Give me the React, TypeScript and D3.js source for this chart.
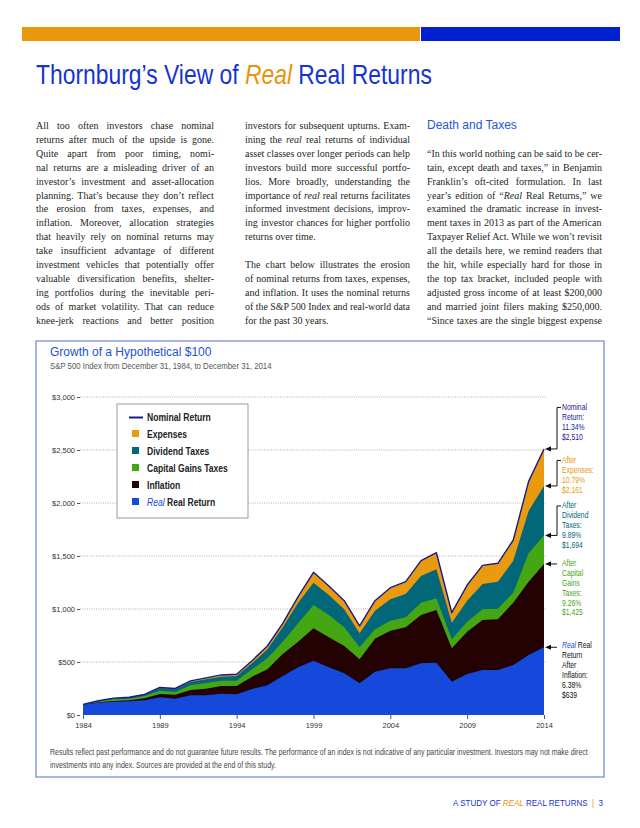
import { useEffect, useRef } from 'react';
import * as d3 from 'd3';

// ---- data ----
const years = [1984, 1985, 1986, 1987, 1988, 1989, 1990, 1991, 1992, 1993, 1994, 1995, 1996, 1997, 1998, 1999,
    2000, 2001, 2002, 2003, 2004, 2005, 2006, 2007, 2008, 2009, 2010, 2011, 2012, 2013, 2014];
const nominalReturn = [100, 134, 159, 168, 194, 260, 250, 322, 350, 378, 384, 512, 651, 865, 1116, 1346,
    1217, 1078, 840, 1078, 1201, 1258, 1456, 1531, 965, 1226, 1412, 1431, 1651, 2204, 2510];
const afterExpenses = [100, 133, 157, 165, 190, 254, 244, 312, 337, 362, 368, 488, 620, 827, 1060, 1248,
    1132, 997, 771, 984, 1091, 1141, 1311, 1374, 871, 1078, 1236, 1258, 1456, 1925, 2161];
const afterDividendTaxes = [100, 129, 148, 154, 179, 229, 217, 280, 302, 324, 324, 431, 535, 692, 865, 1038,
    943, 827, 639, 808, 890, 921, 1060, 1101, 714, 880, 997, 1003, 1154, 1525, 1694];
const afterCapitalGainsTaxes = [100, 120, 132, 138, 157, 198, 192, 236, 248, 274, 274, 362, 431, 575, 692, 818,
    733, 651, 525, 720, 795, 827, 943, 991, 629, 786, 896, 903, 1060, 1258, 1425];
const realRealReturn = [100, 116, 126, 129, 138, 167, 154, 186, 186, 201, 195, 245, 280, 368, 450, 512,
    450, 393, 299, 409, 441, 441, 488, 494, 314, 387, 425, 425, 472, 566, 639];

const yTicks = [0, 500, 1000, 1500, 2000, 2500, 3000];
const xTicks = [1984, 1989, 1994, 1999, 2004, 2009, 2014];

const ORANGE = '#E99A0E';
const TEAL = '#03677A';
const GREEN = '#45A614';
const INFL = '#240102';
const REALBLUE = '#1449DB';
const NAVY = '#1a1a8e';
const PAGEBLUE = '#1532d4';

const layers = [
    { name: 'Expenses', values: nominalReturn, color: ORANGE },
    { name: 'Dividend Taxes', values: afterExpenses, color: TEAL },
    { name: 'Capital Gains Taxes', values: afterDividendTaxes, color: GREEN },
    { name: 'Inflation', values: afterCapitalGainsTaxes, color: INFL },
    { name: 'Real Real Return', values: realRealReturn, color: REALBLUE },
];

const legendItems = [
    { label: 'Nominal Return', color: NAVY, line: true },
    { label: 'Expenses', color: ORANGE },
    { label: 'Dividend Taxes', color: TEAL },
    { label: 'Capital Gains Taxes', color: GREEN },
    { label: 'Inflation', color: INFL },
    { label: '*Real* Real Return', color: REALBLUE },
];

const endLabels = [
    { lines: ['Nominal', 'Return:', '11.34%', '$2,510'], series: nominalReturn, color: NAVY, bracket: true, offset: -39 },
    { lines: ['After', 'Expenses:', '10.79%', '$2,161'], series: afterExpenses, color: ORANGE, bracket: true, offset: -23 },
    { lines: ['After', 'Dividend', 'Taxes:', '9.89%', '$1,694'], series: afterDividendTaxes, color: TEAL, bracket: true, offset: -27 },
    { lines: ['After', 'Capital', 'Gains', 'Taxes:', '9.26%', '$1,425'], series: afterCapitalGainsTaxes, color: GREEN, bracket: false, offset: 2 },
    { lines: ['*Real* Real', 'Return', 'After', 'Inflation:', '6.38%', '$639'], series: realRealReturn, color: '#111', bracket: false, offset: 1 },
];

const footnote = [
    'Results reflect past performance and do not guarantee future results. The performance of an index is not indicative of any particular investment. Investors may not make direct',
    'investments into any index. Sources are provided at the end of this study.',
];

// body copy, '*' toggles italic, trailing '¶' = paragraph end (not justified)
const column1 = [
    'All too often investors chase nominal',
    'returns after much of the upside is gone.',
    'Quite apart from poor timing, nomi-',
    'nal returns are a misleading driver of an',
    'investor’s investment and asset-allocation',
    'planning. That’s because they don’t reflect',
    'the erosion from taxes, expenses, and',
    'inflation. Moreover, allocation strategies',
    'that heavily rely on nominal returns may',
    'take insufficient advantage of different',
    'investment vehicles that potentially offer',
    'valuable diversification benefits, shelter-',
    'ing portfolios during the inevitable peri-',
    'ods of market volatility. That can reduce',
    'knee-jerk reactions and better position',
];
const column2 = [
    'investors for subsequent upturns. Exam-',
    'ining the *real* real returns of individual',
    'asset classes over longer periods can help',
    'investors build more successful portfo-',
    'lios. More broadly, understanding the',
    'importance of *real* real returns facilitates',
    'informed investment decisions, improv-',
    'ing investor chances for higher portfolio',
    'returns over time.¶',
    '',
    'The chart below illustrates the erosion',
    'of nominal returns from taxes, expenses,',
    'and inflation. It uses the nominal returns',
    'of the S&P 500 Index and real-world data',
    'for the past 30 years.¶',
];
const column3 = [
    '“In this world nothing can be said to be cer-',
    'tain, except death and taxes,” in Benjamin',
    'Franklin’s oft-cited formulation. In last',
    'year’s edition of “*Real* Real Returns,” we',
    'examined the dramatic increase in invest-',
    'ment taxes in 2013 as part of the American',
    'Taxpayer Relief Act. While we won’t revisit',
    'all the details here, we remind readers that',
    'the hit, while especially hard for those in',
    'the top tax bracket, included people with',
    'adjusted gross income of at least $200,000',
    'and married joint filers making $250,000.',
    '“Since taxes are the single biggest expense',
];

const SERIF = "'Liberation Serif', 'Times New Roman', serif";
const SANS = "'Liberation Sans', Arial, sans-serif";
const BODY_SIZE = 10;
const LINE0 = 129;
const STEP = 13.9;

let measureCtx: CanvasRenderingContext2D | null = null;
const measureFont = (s: string, font: string) => {
    if (!measureCtx) measureCtx = document.createElement('canvas').getContext('2d');
    if (!measureCtx) return s.length * 5;
    measureCtx.font = font;
    return measureCtx.measureText(s).width;
};
const measure = (s: string, italic: boolean) =>
    measureFont(s, `${italic ? 'italic ' : ''}${BODY_SIZE}px 'Liberation Serif'`);
const sansWidth = (s: string, size: number, weight = 'normal') =>
    measureFont(s, `${weight} ${size}px 'Liberation Sans'`);

const Column = ({ lines, x, width, first }: { lines: string[]; x: number; width: number; first: number }) => (
    <g>
        {lines.map((raw, i) => {
            if (!raw) return null;
            const ragged = raw.endsWith('¶');
            const line = raw.replace('¶', '');
            const parts = line.split('*');
            const natural = d3.sum(parts, (p, k) => measure(p, k % 2 === 1));
            const spaces = (line.match(/ /g) || []).length;
            let ws = 0;
            let tl: number | undefined;
            if (!ragged) {
                if (natural <= width) ws = (width - natural) / Math.max(1, spaces);
                else tl = width;
            }
            return (
                <text key={i} x={x} y={LINE0 + (first + i) * STEP} fontFamily={SERIF} fontSize={BODY_SIZE}
                    fill="#231f20" wordSpacing={ws} textLength={tl} lengthAdjust={tl ? 'spacingAndGlyphs' : undefined}
                    style={{ whiteSpace: 'pre' }}>
                    {parts.map((p, k) => <tspan key={k} fontStyle={k % 2 === 1 ? 'italic' : undefined}>{p}</tspan>)}
                </text>
            );
        })}
    </g>
);

const x = d3.scaleLinear().domain([1984, 2014]).range([83, 544]);
const y = d3.scaleLinear().domain([0, 3000]).range([715, 397]);

const LEGEND_SCALE = 0.78;
const LABEL_SCALE = 0.8;

export default function App() {
    const chartRef = useRef<SVGGElement>(null);

    // horizontal squeeze factors so the sans text reads as a condensed face
    const titleScale = 396 / sansWidth('Thornburg’s View of Real Real Returns', 27);
    const subScale = 222 / sansWidth('S&P 500 Index from December 31, 1984, to December 31, 2014', 9);
    const noteScale = 538 / sansWidth(footnote[0], 8.8);
    const footScale = 151 / sansWidth('A STUDY OF REAL REAL RETURNS  |  3', 9.5);

    useEffect(() => {
        if (!chartRef.current) return;
        const g = d3.select(chartRef.current);
        g.selectAll('*').remove();

        // dotted grid
        g.append('g').selectAll('line')
            .data(yTicks.filter(d => d > 0))
            .join('line')
            .attr('x1', 80).attr('x2', 547)
            .attr('y1', d => y(d)).attr('y2', d => y(d))
            .attr('stroke', '#9a9a9a').attr('stroke-width', 0.8)
            .attr('stroke-dasharray', '1,1.3');

        // y axis
        const yAxis = g.append('g').attr('transform', 'translate(80,0)')
            .call(d3.axisLeft(y).tickValues(yTicks).tickSize(3).tickPadding(2)
                .tickFormat(d => '$' + d3.format(',')(d as number)));
        yAxis.select('.domain').remove();
        yAxis.selectAll('line').attr('stroke', '#555');
        yAxis.selectAll('text').attr('font-family', SANS).attr('font-size', 7.5).attr('fill', '#333');

        // stacked erosion areas
        const area = d3.area<number>()
            .x((_, i) => x(years[i]))
            .y0(y(0))
            .y1(d => y(d));
        g.append('g').selectAll('path')
            .data(layers)
            .join('path')
            .attr('d', d => area(d.values))
            .attr('fill', d => d.color);

        // nominal line
        const line = d3.line<number>().x((_, i) => x(years[i])).y(d => y(d));
        g.append('path')
            .attr('d', line(nominalReturn))
            .attr('fill', 'none')
            .attr('stroke', NAVY)
            .attr('stroke-width', 1.4)
            .attr('stroke-linejoin', 'round');

        // x axis
        const xAxis = g.append('g').attr('transform', `translate(0,${y(0)})`)
            .call(d3.axisBottom(x).tickValues(xTicks).tickSize(4).tickPadding(4).tickFormat(d3.format('d')));
        xAxis.select('.domain').remove();
        xAxis.selectAll('line').attr('stroke', '#555');
        xAxis.selectAll('text').attr('font-family', SANS).attr('font-size', 7.5).attr('fill', '#333');

        // end labels with brackets + arrows
        endLabels.forEach(lab => {
            const ay = y(lab.series[lab.series.length - 1]);
            const first = ay + lab.offset;
            const ag = g.append('g');
            ag.append('path')
                .attr('d', `M545,${ay}L551,${ay - 2.6}L551,${ay + 2.6}Z`)
                .attr('fill', '#111');
            ag.append('line').attr('x1', 550).attr('x2', 557).attr('y1', ay).attr('y2', ay)
                .attr('stroke', '#111').attr('stroke-width', 1);
            if (lab.bracket) {
                ag.append('path')
                    .attr('d', `M561,${first - 2.5}H557V${ay}`)
                    .attr('fill', 'none').attr('stroke', '#111').attr('stroke-width', 1);
            }
            const tg = ag.append('g').attr('transform', `translate(562,${first}) scale(${LABEL_SCALE},1)`);
            lab.lines.forEach((t, i) => {
                const parts = t.split('*');
                const tx = tg.append('text')
                    .attr('x', 0).attr('y', i * 9.9)
                    .attr('font-family', SANS).attr('font-size', 8.5)
                    .attr('fill', lab.color)
                    .style('white-space', 'pre');
                parts.forEach((p, k) => {
                    if (!p) return;
                    const ts = tx.append('tspan').text(p);
                    if (k % 2 === 1) ts.attr('font-style', 'italic').attr('fill', REALBLUE);
                });
            });
        });
    }, []);

    return (
        <svg width={640} height={828} style={{ position: 'absolute', left: 0, top: 0, background: '#fff' }}>
            {/* header bars */}
            <rect x={22} y={27} width={398} height={14} fill="#E8980A" />
            <rect x={421} y={27} width={199} height={14} fill="#0020D2" />

            <g transform={`translate(36,84) scale(${titleScale},1)`}>
                <text x={0} y={0} fontFamily={SANS} fontSize={27} fill={PAGEBLUE} style={{ whiteSpace: 'pre' }}>
                    <tspan>Thornburg’s View of </tspan>
                    <tspan fill="#E8930C" fontStyle="italic">Real</tspan>
                    <tspan> Real Returns</tspan>
                </text>
            </g>

            <Column lines={column1} x={36} width={178} first={0} />
            <Column lines={column2} x={245} width={165} first={0} />
            <text x={427} y={LINE0} fontFamily={SANS} fontSize={12} fill="#2255e0">Death and Taxes</text>
            <Column lines={column3} x={427} width={175} first={2} />

            {/* chart panel */}
            <rect x={36} y={341} width={568} height={436} fill="none" stroke="#8e9ce6" strokeWidth={1.5} />
            <text x={50} y={356} fontFamily={SANS} fontSize={12} fill="#2450d8">Growth of a Hypothetical $100</text>
            <g transform={`translate(50,369) scale(${subScale},1)`}>
                <text x={0} y={0} fontFamily={SANS} fontSize={9} fill="#555">
                    S&amp;P 500 Index from December 31, 1984, to December 31, 2014
                </text>
            </g>

            <g ref={chartRef} />

            {/* legend */}
            <g>
                <rect x={117} y={404} width={131} height={114} fill="#fff" stroke="#999" strokeWidth={1} />
                {legendItems.map((it, i) => {
                    const by = 421 + i * 17;
                    const parts = it.label.split('*');
                    return (
                        <g key={it.label}>
                            {it.line
                                ? <line x1={129} x2={143} y1={by - 3.5} y2={by - 3.5} stroke={it.color} strokeWidth={2} />
                                : <rect x={132} y={by - 8} width={7} height={7} fill={it.color} />}
                            <g transform={`translate(147,${by}) scale(${LEGEND_SCALE},1)`}>
                                <text x={0} y={0} fontFamily={SANS} fontSize={11} fontWeight={700} fill="#222"
                                    style={{ whiteSpace: 'pre' }}>
                                    {parts.map((p, k) => p && (
                                        <tspan key={k} fontStyle={k % 2 === 1 ? 'italic' : undefined}
                                            fontWeight={k % 2 === 1 ? 400 : undefined}
                                            fill={k % 2 === 1 ? REALBLUE : undefined}>{p}</tspan>
                                    ))}
                                </text>
                            </g>
                        </g>
                    );
                })}
            </g>

            {footnote.map((t, i) => (
                <g key={i} transform={`translate(50,${755 + i * 12.5}) scale(${noteScale},1)`}>
                    <text x={0} y={0} fontFamily={SANS} fontSize={8.8} fill="#444">{t}</text>
                </g>
            ))}

            {/* footer */}
            <g transform={`translate(603,806) scale(${footScale},1)`}>
                <text x={0} y={0} textAnchor="end" fontFamily={SANS} fontSize={9.5} fill={PAGEBLUE}
                    style={{ whiteSpace: 'pre' }}>
                    <tspan>A STUDY OF </tspan>
                    <tspan fill="#E8930C" fontStyle="italic">REAL</tspan>
                    <tspan> REAL RETURNS  </tspan>
                    <tspan fill="#E8930C">|</tspan>
                    <tspan>  3</tspan>
                </text>
            </g>
        </svg>
    );
}
